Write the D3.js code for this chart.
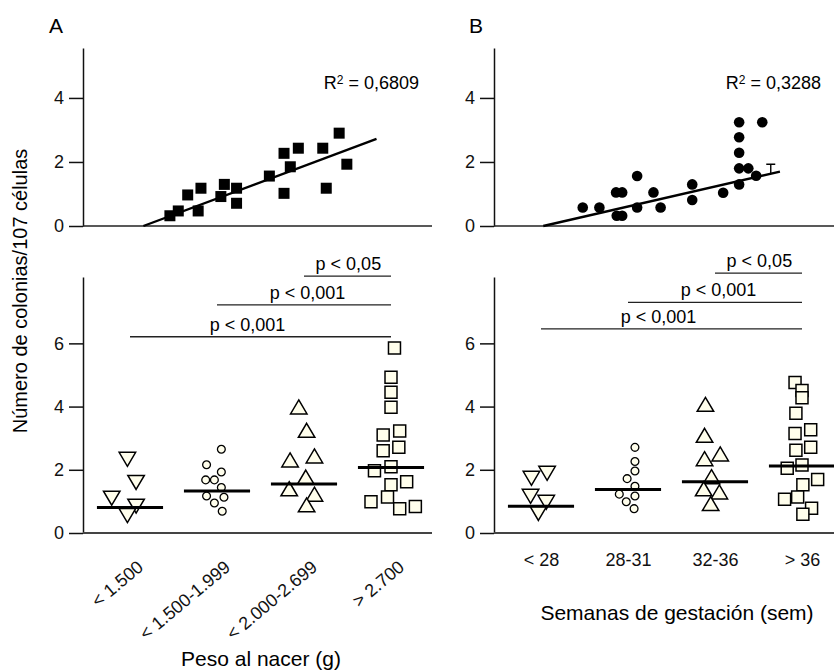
<!DOCTYPE html>
<html>
<head>
<meta charset="utf-8">
<title>Colonias por peso al nacer y semanas de gestación</title>
<script src="https://cdn.jsdelivr.net/npm/d3@7"></script>
<style>
  body { margin: 0; background: #fff; }
  svg { font-family: "Liberation Sans", Arial, Helvetica, sans-serif; }
  .axis path, .axis line { stroke: #111; stroke-width: 1.5; }
  .axis text { font-family: "Liberation Sans", Arial, Helvetica, sans-serif; font-size: 18px; fill: #111; }
</style>
</head>
<body>
<svg id="chart" width="834" height="672"></svg>
<script>
// ---- top panels: scatter + linear fit (x has no scale shown, arbitrary units 0-10)
const pesoX = [2.49, 2.73, 3.00, 3.30, 3.38, 3.95, 4.05, 4.40, 4.40, 5.34, 5.76, 5.76, 5.94, 6.17, 6.87, 6.97, 7.34, 7.56];
const pesoY = [0.32, 0.47, 0.97, 0.47, 1.18, 0.92, 1.30, 1.18, 0.71, 1.56, 1.02, 2.27, 1.85, 2.43, 2.43, 1.18, 2.90, 1.93];
const pesoFitX = [1.73, 8.41];
const pesoFitY = [0, 2.72];
const r2Peso = "0,6809";

const semX = [2.61, 3.10, 3.59, 3.77, 3.61, 3.77, 4.21, 4.21, 4.69, 4.90, 5.83, 5.83, 6.74, 7.21, 7.21, 7.21, 7.21, 7.48, 7.21, 7.71, 7.89];
const semY = [0.58, 0.58, 1.05, 1.05, 0.32, 0.32, 1.56, 0.58, 1.05, 0.58, 1.30, 0.81, 1.04, 3.24, 2.77, 2.29, 1.80, 1.80, 1.30, 1.57, 3.24];
const semFitX = [1.45, 8.41];
const semFitY = [0, 1.70];
const semErrX = 8.14;
const semErrY = [1.64, 1.93];
const r2Sem = "0,3288";

const topTicks = [0, 2, 4];

// ---- bottom panels: dot plots per group, with median
const pesoCats = ["< 1.500", "< 1.500-1.999", "< 2.000-2.699", "> 2.700"];
const semCats = ["< 28", "28-31", "32-36", "> 36"];
const groupShapes = ["triDown", "circle", "triUp", "square"];

const pesoVals = [
  [2.33, 1.60, 1.10, 0.85, 0.55],
  [2.65, 2.16, 1.93, 1.68, 1.68, 1.44, 1.17, 1.13, 0.95, 0.69],
  [3.99, 3.25, 2.31, 2.44, 1.77, 1.40, 1.23, 0.89],
  [5.85, 4.93, 4.45, 3.98, 3.10, 3.23, 2.60, 2.71, 1.97, 2.10, 1.53, 1.62, 0.99, 1.14, 0.77, 0.84]
];
// horizontal scatter of each dot, as a fraction of the category step
const pesoJit = [
  [-0.03, 0.07, -0.21, 0.07, -0.03],
  [0.05, -0.12, 0.05, -0.13, -0.03, 0.05, -0.12, 0.08, -0.03, 0.06],
  [-0.06, 0.03, -0.16, 0.12, 0.02, -0.17, 0.12, 0.03],
  [0.04, 0, 0, 0, -0.09, 0.10, -0.09, 0.09, -0.19, 0, 0, 0.18, -0.23, -0.04, 0.10, 0.28]
];
const pesoMed = [0.81, 1.33, 1.55, 2.07];

const semVals = [
  [1.73, 1.89, 1.16, 0.97, 0.62],
  [2.71, 2.26, 1.96, 1.72, 1.48, 1.23, 1.17, 0.99, 0.77],
  [4.07, 3.09, 2.35, 2.50, 1.78, 1.40, 1.30, 0.93],
  [4.76, 4.51, 4.28, 3.79, 3.27, 3.15, 2.71, 2.62, 2.15, 2.05, 1.69, 1.53, 1.07, 1.14, 0.78, 0.59]
];
const semJit = [
  [-0.11, 0.07, -0.12, 0.06, -0.03],
  [0.08, 0.08, 0.08, -0.01, 0.08, -0.10, 0.08, -0.02, 0.07],
  [-0.11, -0.12, -0.12, 0.06, -0.04, -0.13, 0.05, -0.05],
  [-0.08, 0, 0, -0.07, 0.10, -0.08, 0.10, -0.07, 0, -0.17, 0.18, 0.01, -0.20, -0.05, 0.11, 0.01]
];
const semMed = [0.85, 1.38, 1.62, 2.12];

const bottomTicks = [0, 2, 4, 6];

// significance bars: all compare against the last group
const pFrom = [2, 1, 0];
const pText = ["p < 0,05", "p < 0,001", "p < 0,001"];
const pTextAt = [0.51, 0.52, 0.45];
const pesoPLevel = [8.13, 7.22, 6.21];
const semPLevel = [8.22, 7.30, 6.46];

// ------------------------------------------------------------
const svg = d3.select("#chart");
const FILL = "#fffeec";

const panels = [
  { letter: "A", lx: 49, x0: 83, x1: 432,
    tx: pesoX, ty: pesoY, fitX: pesoFitX, fitY: pesoFitY, r2: r2Peso, filled: "square",
    cats: pesoCats, vals: pesoVals, jit: pesoJit, med: pesoMed, pLevel: pesoPLevel,
    rotate: true, title: "Peso al nacer (g)", titleX: 261, titleY: 666 },
  { letter: "B", lx: 469, x0: 494, x1: 834,
    tx: semX, ty: semY, fitX: semFitX, fitY: semFitY, r2: r2Sem, filled: "circle",
    cats: semCats, vals: semVals, jit: semJit, med: semMed, pLevel: semPLevel,
    rotate: false, title: "Semanas de gestación (sem)", titleX: 677, titleY: 620 }
];

function shapePath(type) {
  if (type === "square") { const a = 12; return `M${-a/2},${-a/2}h${a}v${a}h${-a}Z`; }
  if (type === "triUp") { const w = 16.5, h = 14; return `M0,${-h/2}L${w/2},${h/2}L${-w/2},${h/2}Z`; }
  if (type === "triDown") { const w = 16.5, h = 14; return `M0,${h/2}L${w/2},${-h/2}L${-w/2},${-h/2}Z`; }
  return d3.symbol(d3.symbolCircle, Math.PI * 3.9 * 3.9)();
}

panels.forEach(p => {
  // ---------- top scatter
  const xt = d3.scaleLinear().domain([0, 10]).range([p.x0, p.x1]);
  const yt = d3.scaleLinear().domain([0, 5.56]).range([226, 48]);

  svg.append("text").attr("x", p.lx).attr("y", 33)
    .style("font-size", "21px").text(p.letter);

  svg.append("g").attr("class", "axis")
    .attr("transform", `translate(${p.x0},0)`)
    .call(d3.axisLeft(yt).tickValues(topTicks).tickFormat(d3.format("d"))
      .tickSize(14).tickPadding(5).tickSizeOuter(0));

  svg.append("line")
    .attr("x1", p.x0).attr("x2", p.x1).attr("y1", yt(0)).attr("y2", yt(0))
    .attr("stroke", "#222").attr("stroke-width", 1.6);

  const pts = p.tx.map((x, i) => [x, p.ty[i]]);
  if (p.filled === "square") {
    svg.append("g").selectAll("rect").data(pts).join("rect")
      .attr("x", d => xt(d[0]) - 5.5).attr("y", d => yt(d[1]) - 5.5)
      .attr("width", 11).attr("height", 11).attr("fill", "#000");
  } else {
    svg.append("g").selectAll("circle").data(pts).join("circle")
      .attr("cx", d => xt(d[0])).attr("cy", d => yt(d[1]))
      .attr("r", 5.3).attr("fill", "#000");
  }

  svg.append("line")
    .attr("x1", xt(p.fitX[0])).attr("y1", yt(p.fitY[0]))
    .attr("x2", xt(p.fitX[1])).attr("y2", yt(p.fitY[1]))
    .attr("stroke", "#000").attr("stroke-width", 2.4);

  if (p.letter === "B") {
    const ex = xt(semErrX);
    svg.append("path")
      .attr("d", `M${ex},${yt(semErrY[0])}V${yt(semErrY[1])}M${ex - 4.5},${yt(semErrY[1])}H${ex + 4.5}`)
      .attr("stroke", "#000").attr("stroke-width", 1.4).attr("fill", "none");
  }

  const r2 = svg.append("text")
    .attr("x", p.x1 - 13).attr("y", yt(4.27))
    .attr("text-anchor", "end").style("font-size", "18px");
  r2.append("tspan").text("R");
  r2.append("tspan").attr("dy", -5).style("font-size", "12px").text("2");
  r2.append("tspan").attr("dy", 5).text(" = " + p.r2);

  // ---------- bottom dot plot
  const xb = d3.scalePoint().domain(p.cats).range([p.x0 + 47, p.x0 + 308]);
  const jx = d3.scaleLinear().domain([0, 1]).range([0, xb.step()]);
  const yb = d3.scaleLinear().domain([0, 8.1]).range([533, 277]);

  svg.append("g").attr("class", "axis")
    .attr("transform", `translate(${p.x0},0)`)
    .call(d3.axisLeft(yb).tickValues(bottomTicks).tickSize(14).tickPadding(5).tickSizeOuter(0));

  svg.append("line")
    .attr("x1", p.x0).attr("x2", p.x1).attr("y1", yb(0)).attr("y2", yb(0))
    .attr("stroke", "#444").attr("stroke-width", 1.8);

  const gx = svg.append("g").attr("class", "axis")
    .attr("transform", `translate(0,${yb(0)})`)
    .call(d3.axisBottom(xb).tickSize(0).tickPadding(20));
  gx.select(".domain").remove();
  if (p.rotate) {
    gx.selectAll(".tick text")
      .attr("x", 0).attr("y", 0).attr("dy", 0)
      .style("text-anchor", "end")
      .attr("transform", "translate(14,36) rotate(-40)");
  }

  p.cats.forEach((c, gi) => {
    const dots = p.vals[gi].map((v, i) => [p.jit[gi][i], v]);
    svg.append("g").selectAll("path").data(dots).join("path")
      .attr("d", shapePath(groupShapes[gi]))
      .attr("transform", d => `translate(${xb(c) + jx(d[0])},${yb(d[1])})`)
      .attr("fill", FILL).attr("stroke", "#000")
      .attr("stroke-width", groupShapes[gi] === "circle" ? 1.3 : 1.5);

    svg.append("line")
      .attr("x1", xb(c) - jx(0.38)).attr("x2", xb(c) + jx(0.38))
      .attr("y1", yb(p.med[gi])).attr("y2", yb(p.med[gi]))
      .attr("stroke", "#000").attr("stroke-width", 3);
  });

  const last = p.cats[p.cats.length - 1];
  pFrom.forEach((f, i) => {
    const xa = xb(p.cats[f]), xe = xb(last), y = yb(p.pLevel[i]);
    svg.append("line").attr("x1", xa).attr("x2", xe).attr("y1", y).attr("y2", y)
      .attr("stroke", "#222").attr("stroke-width", 1.3);
    svg.append("text")
      .attr("x", xa + (xe - xa) * pTextAt[i]).attr("y", y - 6)
      .attr("text-anchor", "middle").style("font-size", "18px").text(pText[i]);
  });

  svg.append("text")
    .attr("x", p.titleX).attr("y", p.titleY)
    .attr("text-anchor", "middle").style("font-size", "21px").text(p.title);
});

svg.append("text")
  .attr("transform", "translate(27,291) rotate(-90)")
  .attr("text-anchor", "middle").style("font-size", "20px")
  .text("Número de colonias/107 células");
</script>
</body>
</html>
